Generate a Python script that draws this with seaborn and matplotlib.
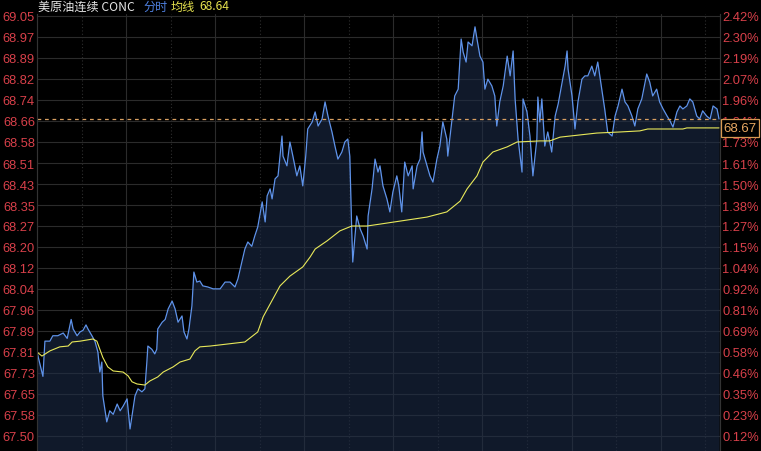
import numpy as np
import pandas as pd
import matplotlib
matplotlib.use('Agg')
import matplotlib.pyplot as plt
import seaborn as sns

# minute du jour de cotation (séance de 23h) et prix
minutes = [0, 12, 16, 26, 32, 42, 53, 61, 69, 73, 81, 87, 93, 99, 103, 111, 117, 123, 127, 131,
           133, 137, 141, 147, 154, 162, 168, 174, 182, 184, 188, 192, 198, 204, 212, 218, 222, 224, 232, 238,
           242, 244, 253, 259, 265, 273, 279, 285, 293, 297, 303, 307, 313, 317, 323, 329, 335, 345, 356, 370,
           380, 390, 400, 406, 414, 420, 426, 434, 440, 446, 455, 461, 465, 471, 475, 481, 487, 495, 497, 505,
           511, 517, 525, 531, 537, 543, 547, 556, 562, 568, 576, 582, 588, 596, 602, 608, 616, 622, 628, 632,
           636, 638, 646, 653, 659, 667, 669, 677, 683, 689, 693, 699, 707, 713, 719, 727, 731, 737, 743, 750,
           758, 760, 768, 774, 778, 780, 788, 794, 800, 808, 814, 820, 828, 830, 838, 844, 851, 857, 861, 867,
           871, 879, 885, 889, 895, 901, 905, 911, 919, 925, 929, 935, 942, 950, 956, 962, 966, 972, 980, 982,
           990, 996, 1002, 1010, 1012, 1016, 1020, 1026, 1032, 1040, 1047, 1053, 1061, 1067, 1071, 1073, 1081, 1087, 1093, 1101,
           1107, 1113, 1121, 1127, 1133, 1141, 1147, 1153, 1162, 1168, 1174, 1182, 1188, 1194, 1202, 1208, 1214, 1222, 1232, 1238,
           1244, 1252, 1258, 1265, 1273, 1279, 1285, 1293, 1299, 1305, 1313, 1319, 1325, 1333, 1339, 1345, 1353, 1360, 1366, 1374,
           1378]
prix = [67.81, 67.72, 67.85, 67.85, 67.87, 67.87, 67.88, 67.86, 67.93, 67.895, 67.87, 67.884, 67.89, 67.91, 67.895, 67.87, 67.85, 67.81, 67.736, 67.773,
        67.648, 67.60, 67.552, 67.593, 67.58, 67.618, 67.593, 67.61, 67.637, 67.60, 67.526, 67.574, 67.648, 67.674, 67.663, 67.674, 67.773, 67.832, 67.82, 67.803,
        67.82, 67.895, 67.92, 67.93, 67.969, 67.998, 67.969, 67.92, 67.943, 67.884, 67.858, 67.895, 67.98, 68.105, 68.068, 68.072, 68.054, 68.05, 68.043, 68.043,
        68.068, 68.068, 68.05, 68.08, 68.142, 68.19, 68.216, 68.20, 68.238, 68.271, 68.364, 68.29, 68.386, 68.412, 68.375, 68.449, 68.46, 68.607, 68.533, 68.497,
        68.585, 68.533, 68.46, 68.497, 68.423, 68.533, 68.633, 68.659, 68.696, 68.644, 68.67, 68.733, 68.68, 68.622, 68.57, 68.522, 68.548, 68.585, 68.596, 68.533,
        68.253, 68.142, 68.312, 68.264, 68.238, 68.19, 68.312, 68.412, 68.522, 68.474, 68.497, 68.423, 68.375, 68.327, 68.40, 68.46, 68.423, 68.327, 68.511, 68.46,
        68.497, 68.412, 68.497, 68.522, 68.622, 68.548, 68.497, 68.46, 68.437, 68.522, 68.57, 68.659, 68.596, 68.533, 68.659, 68.755, 68.78, 68.965, 68.917, 68.88,
        68.954, 68.94, 69.01, 68.965, 68.902, 68.88, 68.78, 68.817, 68.792, 68.755, 68.644, 68.733, 68.792, 68.902, 68.829, 68.921, 68.744, 68.596, 68.474, 68.744,
        68.696, 68.607, 68.46, 68.596, 68.751, 68.659, 68.744, 68.57, 68.622, 68.548, 68.681, 68.725, 68.806, 68.865, 68.921, 68.854, 68.755, 68.633, 68.733, 68.817,
        68.829, 68.829, 68.865, 68.829, 68.88, 68.78, 68.707, 68.622, 68.607, 68.681, 68.718, 68.78, 68.733, 68.718, 68.681, 68.644, 68.707, 68.744, 68.836, 68.806,
        68.755, 68.78, 68.733, 68.707, 68.681, 68.663, 68.64, 68.696, 68.718, 68.707, 68.718, 68.744, 68.733, 68.681, 68.67, 68.70, 68.681, 68.67, 68.718, 68.707,
        68.67]

# ligne de moyenne (均线)
minutes_moy = [0, 10, 26, 46, 63, 71, 87, 113, 121, 127, 133, 143, 154, 174, 184, 192, 202, 218, 228, 244,
               255, 275, 289, 309, 319, 329, 350, 420, 446, 457, 471, 491, 511, 537, 552, 562, 586, 612, 636, 667,
               693, 788, 828, 855, 869, 889, 901, 921, 950, 970, 1016, 1036, 1057, 1077, 1131, 1178, 1218, 1234, 1305, 1313,
               1378]
prix_moy = [67.81, 67.795, 67.814, 67.829, 67.832, 67.847, 67.85, 67.858, 67.85, 67.82, 67.79, 67.755, 67.74, 67.736, 67.722, 67.70, 67.692, 67.688, 67.703, 67.718,
            67.736, 67.755, 67.773, 67.784, 67.814, 67.829, 67.832, 67.847, 67.884, 67.94, 67.987, 68.054, 68.09, 68.124, 68.161, 68.19, 68.22, 68.257, 68.275, 68.275,
            68.282, 68.308, 68.327, 68.367, 68.412, 68.46, 68.511, 68.548, 68.567, 68.585, 68.589, 68.589, 68.603, 68.607, 68.618, 68.622, 68.626, 68.633, 68.633, 68.637,
            68.637]

etiquettes_prix = ['67.50', '67.58', '67.65', '67.73', '67.81', '67.89', '67.96', '68.04', '68.12', '68.20', '68.27',
                   '68.35', '68.43', '68.51', '68.58', '68.66', '68.74', '68.82', '68.89', '68.97', '69.05']
etiquettes_pct = ['0.12%', '0.23%', '0.35%', '0.46%', '0.58%', '0.69%', '0.81%', '0.92%', '1.04%', '1.15%', '1.27%',
                  '1.38%', '1.50%', '1.61%', '1.73%', '1.84%', '1.96%', '2.07%', '2.19%', '2.30%', '2.42%']
dernier_prix = 68.67
moyenne_finale = 68.64
duree_seance = 1380

df = pd.DataFrame({'minute': minutes, 'prix': prix})
df_moy = pd.DataFrame({'minute': minutes_moy, 'prix': prix_moy})

sns.set_theme(style='dark', rc={'axes.facecolor': 'black', 'figure.facecolor': 'black',
                                'axes.edgecolor': '#333333', 'axes.linewidth': 0.8})
plt.rcParams['font.family'] = ['Liberation Sans', 'Noto Sans CJK SC', 'DejaVu Sans']

W, H = 761, 452
fig = plt.figure(figsize=(W / 100, H / 100), dpi=100, facecolor='black')
ax = fig.add_axes([37 / W, 0, 683 / W, 437 / H])

niveaux = np.linspace(67.50, 69.05, 21)
px_par_unite = 420 / 1.55
y_bas = 67.50 - 15 / px_par_unite
y_haut = 69.05 + 2 / px_par_unite

# remplissage sous la courbe
ax.fill_between(df['minute'], df['prix'], y_bas, color='#1c2b47', alpha=0.6, lw=0, zorder=1)
sns.lineplot(data=df, x='minute', y='prix', ax=ax, color='#5f93ea', lw=0.9, estimator=None, zorder=3)
sns.lineplot(data=df_moy, x='minute', y='prix', ax=ax, color='#e8e85a', lw=0.8, estimator=None, zorder=4)
ax.axhline(dernier_prix, color='#d9a062', ls=(0, (3, 3)), lw=0.9, zorder=5)

ax.set_xlim(0, duree_seance)
ax.set_ylim(y_bas, y_haut)
ax.set_xticks(np.arange(180, duree_seance, 180))
ax.set_xticks(np.arange(90, duree_seance, 180), minor=True)
ax.set_yticks(niveaux)
ax.set_yticklabels(etiquettes_prix)
ax.tick_params(axis='x', which='both', length=0, labelbottom=False)
ax.tick_params(axis='y', length=0, pad=1.5, labelsize=9.3, labelcolor='#d8404a')
ax.grid(axis='y', color='#2b2b2b', lw=0.8)
ax.grid(axis='x', which='major', color='#2b2b2b', lw=0.8)
ax.grid(axis='x', which='minor', color='#2e2e2e', lw=0.8, ls=(0, (1, 2)))
ax.set_xlabel('')
ax.set_ylabel('')
for s in ['top', 'bottom']:
    ax.spines[s].set_visible(False)

# axe de droite en pourcentage
ax2 = ax.twinx()
ax2.set_ylim(y_bas, y_haut)
ax2.set_yticks(niveaux)
ax2.set_yticklabels(etiquettes_pct)
ax2.tick_params(axis='y', length=0, pad=1.5, labelsize=9.3, labelcolor='#d8404a')
ax2.grid(False)
for s in ['top', 'bottom']:
    ax2.spines[s].set_visible(False)

ax2.annotate(f'{dernier_prix:.2f}', xy=(1, dernier_prix), xycoords=('axes fraction', 'data'),
             xytext=(2.5, -6.5), textcoords='offset points', ha='left', va='center',
             fontsize=9.5, color='#e8a862', annotation_clip=False,
             bbox=dict(boxstyle='square,pad=0.2', fc='black', ec='#d99a52', lw=0.9))

# titre en morceaux de couleurs différentes
cjk = ['Noto Sans CJK SC', 'DejaVu Sans']
fig.text(38 / W, 1 - 7 / H, '美原油连续 CONC', color='#e6e6e6', fontsize=8.7, va='center', family=cjk)
fig.text(143 / W, 1 - 7 / H, '分时', color='#4f80e0', fontsize=8.7, va='center', family=cjk)
fig.text(171 / W, 1 - 7 / H, '均线', color='#e6e24e', fontsize=8.7, va='center', family=cjk)
fig.text(199 / W, 1 - 7 / H, f'{moyenne_finale:.2f}', color='#e6e24e', fontsize=8.7, va='center', family=cjk)

fig.savefig('out.png', dpi=100, facecolor='black')
